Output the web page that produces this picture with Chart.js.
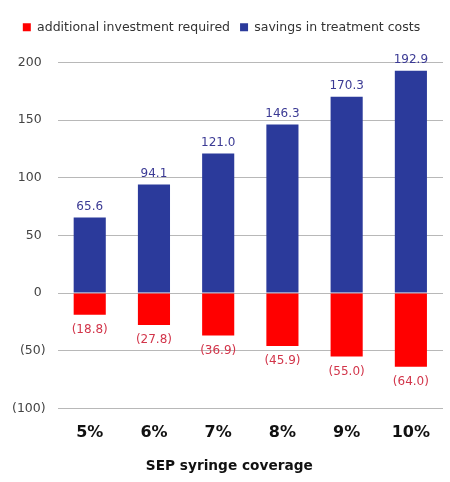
<!DOCTYPE html>
<html><head><meta charset="utf-8">
<script src="https://cdn.jsdelivr.net/npm/chart.js@4"></script>
<style>html,body{margin:0;padding:0;background:#fff}#wrap{width:450px;height:482px}</style>
</head><body><div id="wrap"><canvas id="c"></canvas></div>
<script>
const categories = ['5%','6%','7%','8%','9%','10%'];
const investment = [-18.8,-27.8,-36.9,-45.9,-55.0,-64.0];
const savings = [65.6,94.1,121.0,146.3,170.3,192.9];
const yTicks = [-100,-50,0,50,100,150,200];
const xTitle = 'SEP syringe coverage';

const FONT = '"DejaVu Sans", Verdana, sans-serif';
const fmt = v => v < 0 ? '(' + Math.abs(v).toFixed(1) + ')' : v.toFixed(1);
const fmtTick = v => v < 0 ? '(' + Math.abs(v) + ')' : String(v) + '\u2008';

const labelPlugin = {
  id: 'valueLabels',
  afterDatasetsDraw(chart) {
    const ctx = chart.ctx;
    ctx.save();
    ctx.font = '12px ' + FONT;
    ctx.textAlign = 'center';
    chart.data.datasets.forEach((ds, i) => {
      const meta = chart.getDatasetMeta(i);
      meta.data.forEach((bar, j) => {
        const v = ds.data[j];
        if (v >= 0) {
          ctx.fillStyle = '#3b3a94';
          ctx.textBaseline = 'bottom';
          ctx.fillText(fmt(v), bar.x, bar.y - 5);
        } else {
          ctx.fillStyle = '#d2354a';
          ctx.textBaseline = 'top';
          ctx.fillText(fmt(v), bar.x, bar.y + 9);
        }
      });
    });
    ctx.restore();
  }
};

const legendSpace = {
  id: 'legendSpace',
  beforeInit(chart) {
    const fit = chart.legend.fit;
    chart.legend.fit = function () { fit.bind(chart.legend)(); this.height += 19; };
  }
};

const titlePlugin = {
  id: 'xTitle',
  afterDraw(chart) {
    const ctx = chart.ctx, a = chart.chartArea;
    ctx.save();
    ctx.font = 'bold 13.7px ' + FONT;
    ctx.fillStyle = '#111';
    ctx.textAlign = 'center';
    ctx.textBaseline = 'middle';
    ctx.fillText(xTitle, (a.left + a.right) / 2 - 21, chart.height - 16);
    ctx.restore();
  }
};

new Chart(document.getElementById('c'), {
  type: 'bar',
  data: {
    labels: categories,
    datasets: [
      { label: 'additional investment required', data: investment, backgroundColor: '#ff0000', barPercentage: 0.5, categoryPercentage: 1 },
      { label: 'savings in treatment costs', data: savings, backgroundColor: '#2b3a9b', barPercentage: 0.5, categoryPercentage: 1 }
    ]
  },
  options: {
    responsive: true,
    maintainAspectRatio: false,
    animation: false,
    layout: { padding: { left: 0, right: 7, top: 11, bottom: 6 } },
    plugins: {
      legend: {
        position: 'top',
        labels: {
          boxWidth: 8, boxHeight: 8, padding: 10, color: '#333',
          font: { family: FONT, size: 12.5 }
        }
      },
      tooltip: { enabled: false }
    },
    scales: {
      x: {
        stacked: true,
        grid: { display: false },
        border: { display: false },
        ticks: { color: '#111', padding: 7, font: { family: FONT, size: 16, weight: 'bold' } },
        title: { display: true, text: xTitle, color: 'rgba(0,0,0,0)', padding: { top: 10, bottom: 0 }, font: { family: FONT, size: 13.7, weight: 'bold' } }
      },
      y: {
        stacked: true,
        min: -100, max: 200,
        afterBuildTicks: axis => { axis.ticks = yTicks.map(v => ({ value: v })); },
        grid: { color: '#b8b8b8', lineWidth: 1, drawTicks: false },
        border: { display: false },
        ticks: { color: '#444', padding: 12, callback: v => fmtTick(v), font: { family: FONT, size: 12.5 } }
      }
    }
  },
  plugins: [labelPlugin, legendSpace, titlePlugin]
});
</script></body></html>
